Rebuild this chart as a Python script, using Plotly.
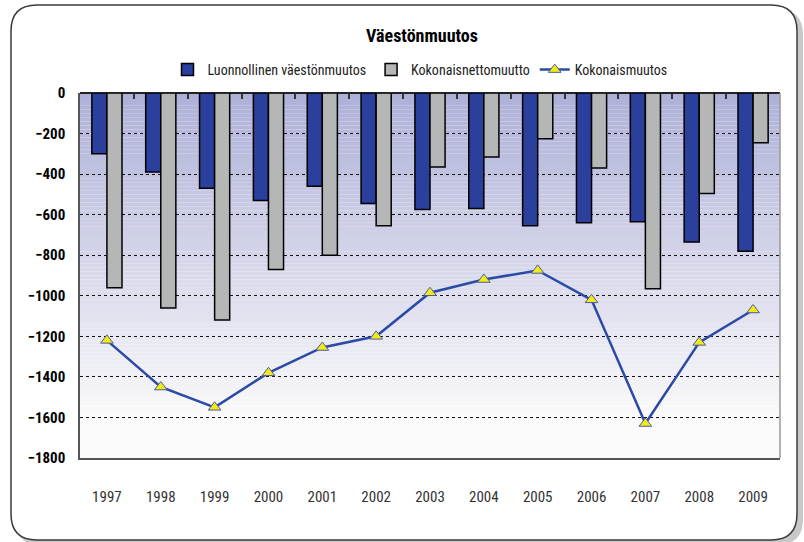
import plotly.graph_objects as go

# data
vuodet = ["1997", "1998", "1999", "2000", "2001", "2002", "2003",
          "2004", "2005", "2006", "2007", "2008", "2009"]
luonnollinen = [-300, -390, -470, -530, -460, -545, -575, -570, -655, -640, -635, -735, -780]
nettomuutto = [-960, -1060, -1120, -870, -800, -655, -365, -315, -225, -370, -965, -495, -245]
kokonaismuutos = [-1220, -1450, -1550, -1380, -1255, -1200, -985, -920, -875, -1020, -1630, -1230, -1070]
y_ticks = [0, -200, -400, -600, -800, -1000, -1200, -1400, -1600, -1800]

W, H = 804, 542
L, R, T, B = 80, 24, 93, 84
narrow = "Liberation Sans Narrow, Arial Narrow, Roboto Condensed, DejaVu Sans Condensed, sans-serif"


def px_x(p):
    return (p - L) / (W - L - R)


def px_y(p):
    return (H - B - p) / (H - T - B)


def rounded(x0, y0, x1, y1, r):
    # rounded rectangle in pixel coords -> paper path
    rx = r / (W - L - R)
    ry = r / (H - T - B)
    a, b, c, d = px_x(x0), px_y(y0), px_x(x1), px_y(y1)
    pts = [f"M {a + rx} {b}", f"L {c - rx} {b}", f"Q {c} {b} {c} {b - ry}",
           f"L {c} {d + ry}", f"Q {c} {d} {c - rx} {d}", f"L {a + rx} {d}",
           f"Q {a} {d} {a} {d + ry}", f"L {a} {b - ry}", f"Q {a} {b} {a + rx} {b}"]
    return " ".join(pts) + " Z"


fig = go.Figure()

fig.add_trace(go.Bar(x=vuodet, y=luonnollinen, name="Luonnollinen väestönmuutos",
                     marker=dict(color="#2b3f9c", line=dict(color="black", width=1.5))))
fig.add_trace(go.Bar(x=vuodet, y=nettomuutto, name="Kokonaisnettomuutto",
                     marker=dict(color="#b5b6b6", line=dict(color="black", width=1.5))))
fig.add_trace(go.Scatter(x=vuodet, y=kokonaismuutos, name="Kokonaismuutos",
                         mode="lines+markers",
                         line=dict(color="#2a4aa6", width=2.5),
                         marker=dict(symbol="triangle-up", size=11, color="#f2ea10",
                                     line=dict(color="#4a5ab0", width=1))))
# invisible trace so the top axis draws its ticks
fig.add_trace(go.Scatter(x=vuodet, y=[0] * len(vuodet), xaxis="x2", mode="lines",
                         line=dict(width=0), showlegend=False, hoverinfo="skip"))

shapes = []
# shadow + frame
shapes.append(dict(type="path", xref="paper", yref="paper", layer="below",
                   path=rounded(15, 9, 803, 545, 26), fillcolor="#c8c8c8", line=dict(width=0)))
shapes.append(dict(type="path", xref="paper", yref="paper", layer="below",
                   path=rounded(11, 5, 797, 540, 26), fillcolor="white",
                   line=dict(color="#3a3a3a", width=1.5)))
# gradient background of the plot area
n = 90
top = (174, 176, 216)
for i in range(n):
    f = min(1.0, i / (n - 1) * 1.12)
    col = tuple(int(round(top[k] + (250 - top[k]) * f)) for k in range(3))
    shapes.append(dict(type="rect", xref="paper", yref="paper", layer="below",
                       x0=0, x1=1, y0=1 - (i + 1) / n, y1=1 - i / n,
                       fillcolor="rgb(%d,%d,%d)" % col, line=dict(width=0)))

fig.update_layout(
    width=W, height=H,
    margin=dict(l=L, r=R, t=T, b=B, autoexpand=False),
    paper_bgcolor="white",
    plot_bgcolor="rgba(0,0,0,0)",
    barmode="group", bargap=0.44, bargroupgap=0,
    shapes=shapes,
    title=dict(text="<b>Väestönmuutos</b>", x=422 / W, xanchor="center",
               y=1 - 36 / H, yanchor="middle",
               font=dict(family=narrow, size=18, color="black")),
    legend=dict(orientation="h", x=px_x(420), xanchor="center", y=px_y(70), yanchor="middle",
                font=dict(family=narrow, size=14, color="#222"),
                bgcolor="rgba(0,0,0,0)", itemwidth=30, tracegroupgap=0),
    xaxis=dict(range=[-0.5, 12.5], showline=True, linecolor="#555", linewidth=2, ticks="",
               tickfont=dict(family=narrow, size=15, color="#333"),
               ticklabelstandoff=24, showgrid=False),
    xaxis2=dict(overlaying="x", range=[-0.5, 12.5], side="top", showticklabels=False,
                ticks="inside", tickson="boundaries", ticklen=6, tickwidth=1.5,
                tickcolor="#333", showline=False, showgrid=False, anchor="y"),
    yaxis=dict(range=[-1800, 0], tickvals=y_ticks, showgrid=True, gridcolor="#111",
               griddash="dot", gridwidth=1, zeroline=True, zerolinecolor="#222",
               zerolinewidth=2, showline=True, linecolor="#555", linewidth=1.5,
               tickfont=dict(family=narrow, size=15, color="black", weight="bold"),
               ticks="", ticklabelstandoff=10),
    hovermode=False,
)

# thin right border of the plot area
fig.add_shape(type="line", xref="paper", yref="paper", x0=1, x1=1, y0=0, y1=1,
              line=dict(color="#999", width=1.5))

fig.write_html("out.html", config={"displayModeBar": False},
               post_script="document.body.style.margin='0';")
